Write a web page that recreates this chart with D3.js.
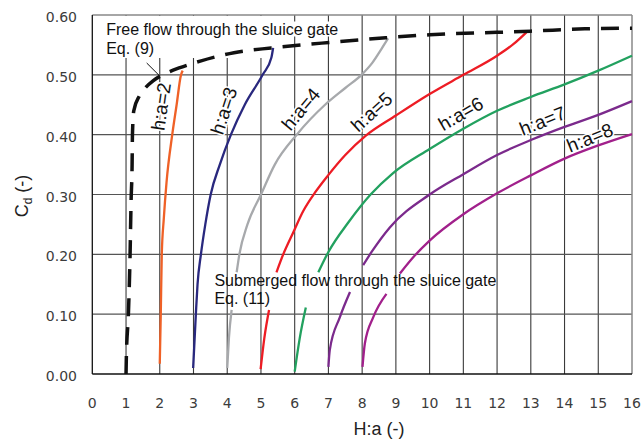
<!DOCTYPE html>
<html>
<head>
<meta charset="utf-8">
<title>Cd vs H:a</title>
<script src="https://cdn.jsdelivr.net/npm/d3@7"></script>
<style>
  body { margin: 0; background: #fff; }
  .tick-lbl { font-family: "DejaVu Sans", sans-serif; font-size: 14px; fill: #3c3c3c; }
  .note { font-family: "Liberation Sans", Arial, sans-serif; font-size: 16px; fill: #111; }
  .cname { font-family: "Liberation Sans", Arial, sans-serif; font-size: 19px; fill: #111;
           stroke: #fff; stroke-width: 3px; paint-order: stroke; }
  .title { font-family: "Liberation Sans", Arial, sans-serif; font-size: 18px; fill: #222; }
</style>
</head>
<body>
<script>
// ---- data ----
var xTicks = [0,1,2,3,4,5,6,7,8,9,10,11,12,13,14,15,16];
var yTicks = [0,0.1,0.2,0.3,0.4,0.5,0.6];

// free flow, Eq. (9)
var freeFlow = [[1.0,0],[1.01,0.03],[1.07,0.1],[1.12,0.2],[1.15,0.29],[1.18,0.35],[1.19,0.4],[1.23,0.44],
  [1.4,0.465],[1.6,0.48],[1.8,0.49],[2.2,0.503],[2.6,0.512],[3.2,0.523],[4.2,0.537],[5.3,0.545],
  [6.8,0.553],[8.7,0.562],[10,0.567],[12,0.571],[13,0.573],[14.6,0.577],[16,0.578]];

// submerged flow, Eq. (11) - null = hidden behind the text
var ha2 = [[2.0,0.017],[2.03,0.1],[2.06,0.2],[2.12,0.26],[2.2,0.32],[2.37,0.4],[2.5,0.45],[2.63,0.5],[2.68,0.507]];
var ha3 = [[2.99,0.01],[3.07,0.1],[3.12,0.15],[3.22,0.2],[3.35,0.25],[3.51,0.3],[3.78,0.35],[4.11,0.4],[4.52,0.45],[5.05,0.5],[5.31,0.529],[5.36,0.545]];
var ha4 = [[4.0,0.01],[4.05,0.06],[4.13,0.107],null,[4.28,0.17],[4.36,0.2],[4.6,0.25],[5.0,0.3],[5.41,0.35],[6.06,0.4],[6.9,0.45],[7.5,0.478],[7.98,0.5],[8.3,0.52],[8.57,0.543],[8.77,0.561]];
var ha5 = [[4.99,0.008],[5.1,0.06],[5.24,0.107],null,[5.46,0.17],[5.66,0.2],[5.96,0.237],[6.25,0.272],[6.6,0.303],[6.99,0.332],[7.5,0.366],[8.1,0.398],[9.0,0.432],[10,0.468],[11,0.5],[12,0.532],[12.5,0.552],[12.87,0.571]];
var ha6 = [[6.0,0.004],[6.15,0.06],[6.33,0.111],null,[6.7,0.17],[7.0,0.204],[7.6,0.254],[8.25,0.3],[8.9,0.335],[10,0.376],[11,0.41],[12,0.44],[13,0.463],[14,0.484],[15,0.507],[16,0.532]];
var ha7 = [[7.0,0.012],[7.04,0.04],[7.34,0.095],[7.64,0.137],null,[8.03,0.182],[8.28,0.204],[8.82,0.245],[10,0.3],[11,0.334],[12,0.366],[13,0.391],[14,0.413],[15,0.433],[16,0.456]];
var ha8 = [[8.01,0.012],[8.08,0.051],[8.33,0.095],[8.72,0.134],null,[9.12,0.168],[9.56,0.198],[10,0.223],[11,0.267],[12,0.302],[13,0.332],[14,0.36],[15,0.382],[16,0.401]];

var seriesList = [ha2, ha3, ha4, ha5, ha6, ha7, ha8];
var seriesColors = ["#ef6127","#29287e","#a7a9ac","#ed1c24","#22a15f","#7b2a8c","#a1208b"];
var curveNames = ["h:a=2","h:a=3","h:a=4","h:a=5","h:a=6","h:a=7","h:a=8"];
var nameX = [2.04,3.9,6.18,8.28,10.92,13.35,14.75];
var nameY = [0.447,0.44,0.443,0.438,0.435,0.423,0.395];
var nameAngle = [-82,-72,-50,-42,-30,-22,-22];

// ---- chart ----
var w = 643, h = 441;
var svg = d3.select("body").append("svg").attr("width", w).attr("height", h);

var x = d3.scaleLinear().domain([0,16]).range([92.3,632]);
var y = d3.scaleLinear().domain([0,0.6]).range([374,15]);

// grid
svg.selectAll(".vgrid").data(xTicks.slice(1,-1)).enter().append("line")
  .attr("x1", function(d){ return x(d); }).attr("x2", function(d){ return x(d); })
  .attr("y1", y(0)).attr("y2", y(0.6))
  .attr("stroke", "#3a3a3a").attr("stroke-width", 1.1);
svg.selectAll(".hgrid").data(yTicks.slice(1,-1)).enter().append("line")
  .attr("x1", x(0)).attr("x2", x(16))
  .attr("y1", function(d){ return y(d); }).attr("y2", function(d){ return y(d); })
  .attr("stroke", "#555").attr("stroke-width", 1.1);

// border
svg.append("line").attr("x1", x(0)).attr("x2", x(16)).attr("y1", y(0.6)).attr("y2", y(0.6)).attr("stroke", "#888").attr("stroke-width", 1.5);
svg.append("line").attr("x1", x(16)).attr("x2", x(16)).attr("y1", y(0)).attr("y2", y(0.6)).attr("stroke", "#888").attr("stroke-width", 1.5);
svg.append("line").attr("x1", x(0)).attr("x2", x(16)).attr("y1", y(0)).attr("y2", y(0)).attr("stroke", "#111").attr("stroke-width", 1.3);
svg.append("line").attr("x1", x(0)).attr("x2", x(0)).attr("y1", y(0)).attr("y2", y(0.6)).attr("stroke", "#111").attr("stroke-width", 1.3);

// free flow note (white box hides the grid behind it)
var noteG = svg.append("g");
var boxG = noteG.append("g");
var t1 = noteG.append("text").attr("class", "note").attr("x", x(0.41)).attr("y", 34.5).text("Free flow through the sluice gate");
var t2 = noteG.append("text").attr("class", "note").attr("x", x(0.41)).attr("y", 53.5).text("Eq. (9)");
var b1 = t1.node().getBBox();
boxG.append("rect").attr("x", b1.x - 2).attr("y", b1.y + 1).attr("width", b1.width + 3).attr("height", b1.height - 2).attr("fill", "#fff");
boxG.append("rect").attr("x", b1.x - 2).attr("y", y(0.6) + 1).attr("width", x(5.75) - b1.x).attr("height", 57 - y(0.6)).attr("fill", "#fff");

var line = d3.line()
  .defined(function(d){ return d != null; })
  .x(function(d){ return x(d[0]); })
  .y(function(d){ return y(d[1]); })
  .curve(d3.curveMonotoneX);

seriesList.forEach(function(s, i){
  svg.append("path").datum(s).attr("d", line)
    .attr("fill", "none").attr("stroke", seriesColors[i]).attr("stroke-width", 2.3);
});

svg.append("path").datum(freeFlow).attr("d", line)
  .attr("fill", "none").attr("stroke", "#111").attr("stroke-width", 3.5)
  .attr("stroke-dasharray", "18,11");

// leader line for Eq. (9)
svg.append("line").attr("x1", 146.7).attr("y1", 63).attr("x2", x(2.0)).attr("y2", y(0.498))
  .attr("stroke", "#111").attr("stroke-width", 1);

// submerged note
svg.append("text").attr("class", "note").attr("x", x(3.62)).attr("y", 285.5).text("Submerged flow through the sluice gate");
svg.append("text").attr("class", "note").attr("x", x(3.62)).attr("y", 304).text("Eq. (11)");

// curve names
svg.selectAll(".cname").data(curveNames).enter().append("text")
  .attr("class", "cname")
  .attr("text-anchor", "middle").attr("dy", "0.35em")
  .attr("transform", function(d, i){ return "translate(" + x(nameX[i]) + "," + y(nameY[i]) + ") rotate(" + nameAngle[i] + ")"; })
  .text(function(d){ return d; });

// tick labels
svg.selectAll(".xl").data(xTicks).enter().append("text")
  .attr("class", "tick-lbl").attr("text-anchor", "middle")
  .attr("x", function(d){ return x(d); }).attr("y", 408)
  .text(function(d){ return d; });
svg.selectAll(".yl").data(yTicks).enter().append("text")
  .attr("class", "tick-lbl").attr("text-anchor", "end")
  .attr("x", 77).attr("y", function(d){ return y(d) + 7; })
  .text(function(d){ return d3.format(".2f")(d); });

// axis titles
svg.append("text").attr("class", "title").attr("text-anchor", "middle")
  .attr("x", 379).attr("y", 435).text("H:a (-)");
var yt = svg.append("text").attr("class", "title").attr("text-anchor", "middle")
  .attr("transform", "translate(28,196) rotate(-90)");
yt.append("tspan").text("C");
yt.append("tspan").attr("font-size", "12px").attr("dy", 4).text("d");
yt.append("tspan").attr("dy", -4).text(" (-)");
</script>
</body>
</html>
